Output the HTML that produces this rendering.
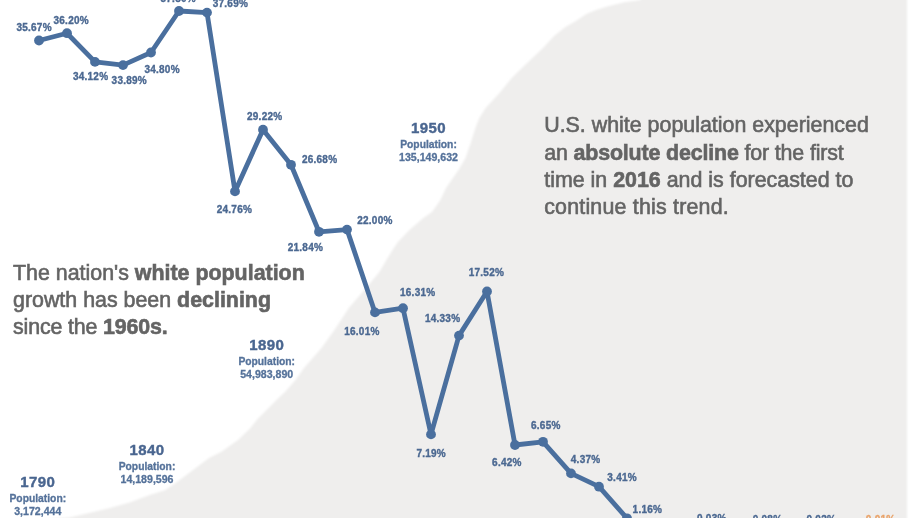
<!DOCTYPE html>
<html><head><meta charset="utf-8"><style>
html,body{margin:0;padding:0;background:#fff;width:920px;height:518px;overflow:hidden}
svg{display:block;will-change:transform}
text{font-family:"Liberation Sans",sans-serif}
.lb{font-size:10px;letter-spacing:0.25px;font-weight:bold;fill:#4b6891;stroke:#4b6891;stroke-width:0.35px}
.yr{font-size:15px;font-weight:bold;fill:#4a6690;stroke:#4a6690;stroke-width:0.4px;letter-spacing:0.4px;text-anchor:middle}
.pp{font-size:10.6px;font-weight:bold;fill:#55729a;stroke:#55729a;stroke-width:0.3px;text-anchor:middle}
.pq{font-size:10.3px}
.tx{font-size:21.4px;fill:#646464;stroke:#646464;stroke-width:0.6px}
.b{font-weight:bold}
</style></head><body>
<svg width="920" height="518" viewBox="0 0 920 518">
<defs><filter id="bl" x="-5%" y="-5%" width="110%" height="110%"><feGaussianBlur stdDeviation="0.9"/></filter></defs>
<path d="M40.0,520.0 L69.6,517.6 L89.0,513.0 L110.0,508.0 L129.6,502.4 L149.0,495.2 L165.4,490.0 L177.0,482.0 L193.0,470.0 L209.0,458.0 L221.0,452.0 L238.0,440.0 L250.0,428.5 L258.0,418.6 L267.6,409.0 L277.2,399.3 L285.0,392.0 L295.5,380.0 L304.0,368.0 L321.5,348.0 L333.0,332.0 L341.0,320.0 L348.8,308.0 L364.3,290.0 L379.4,272.0 L386.4,260.0 L393.8,248.0 L397.9,242.0 L409.4,230.0 L423.3,218.0 L432.0,212.0 L440.4,200.0 L446.0,188.0 L459.0,169.3 L465.5,158.0 L470.7,143.0 L475.4,128.0 L479.2,118.3 L485.6,108.0 L499.5,93.0 L511.7,78.0 L525.0,65.0 L543.0,48.0 L554.0,36.0 L565.4,27.1 L575.9,20.9 L586.3,13.9 L596.7,9.7 L607.2,6.6 L624.3,2.2 L640.7,0.0 L640.7,-2.0 L907.0,-2.0 L907.0,520.0 Z" fill="#efeeed" filter="url(#bl)"/>
<polyline points="39.0,40.5 67.0,33.2 95.0,61.9 123.0,65.1 151.0,52.5 179.0,11.0 207.0,12.6 235.0,191.4 263.0,129.7 291.0,164.8 319.0,231.8 347.0,229.6 375.0,312.4 403.0,308.2 431.0,434.4 459.0,335.6 487.0,291.5 515.0,445.0 543.0,441.8 571.0,473.4 599.0,486.7 627.0,518.3 655,560" fill="none" stroke="#4a6f9e" stroke-width="4.8" stroke-linejoin="round"/>
<circle cx="39.0" cy="40.5" r="4.9" fill="#4a6f9e"/>
<circle cx="67.0" cy="33.2" r="4.9" fill="#4a6f9e"/>
<circle cx="95.0" cy="61.9" r="4.9" fill="#4a6f9e"/>
<circle cx="123.0" cy="65.1" r="4.9" fill="#4a6f9e"/>
<circle cx="151.0" cy="52.5" r="4.9" fill="#4a6f9e"/>
<circle cx="179.0" cy="11.0" r="4.9" fill="#4a6f9e"/>
<circle cx="207.0" cy="12.6" r="4.9" fill="#4a6f9e"/>
<circle cx="235.0" cy="191.4" r="4.9" fill="#4a6f9e"/>
<circle cx="263.0" cy="129.7" r="4.9" fill="#4a6f9e"/>
<circle cx="291.0" cy="164.8" r="4.9" fill="#4a6f9e"/>
<circle cx="319.0" cy="231.8" r="4.9" fill="#4a6f9e"/>
<circle cx="347.0" cy="229.6" r="4.9" fill="#4a6f9e"/>
<circle cx="375.0" cy="312.4" r="4.9" fill="#4a6f9e"/>
<circle cx="403.0" cy="308.2" r="4.9" fill="#4a6f9e"/>
<circle cx="431.0" cy="434.4" r="4.9" fill="#4a6f9e"/>
<circle cx="459.0" cy="335.6" r="4.9" fill="#4a6f9e"/>
<circle cx="487.0" cy="291.5" r="4.9" fill="#4a6f9e"/>
<circle cx="515.0" cy="445.0" r="4.9" fill="#4a6f9e"/>
<circle cx="543.0" cy="441.8" r="4.9" fill="#4a6f9e"/>
<circle cx="571.0" cy="473.4" r="4.9" fill="#4a6f9e"/>
<circle cx="599.0" cy="486.7" r="4.9" fill="#4a6f9e"/>
<circle cx="627.0" cy="518.3" r="4.9" fill="#4a6f9e"/>
<text x="16.4" y="31.2" class="lb">35.67%</text>
<text x="53.5" y="23.6" class="lb">36.20%</text>
<text x="72.9" y="80.4" class="lb">34.12%</text>
<text x="111.6" y="84" class="lb">33.89%</text>
<text x="144.4" y="72.9" class="lb">34.80%</text>
<text x="160.5" y="2.3" class="lb">37.80%</text>
<text x="212.7" y="6.5" class="lb">37.69%</text>
<text x="216.7" y="212.7" class="lb">24.76%</text>
<text x="247" y="119.5" class="lb">29.22%</text>
<text x="301.9" y="162.7" class="lb">26.68%</text>
<text x="287.7" y="251" class="lb">21.84%</text>
<text x="357.2" y="223.8" class="lb">22.00%</text>
<text x="344.2" y="335.4" class="lb">16.01%</text>
<text x="400" y="295.8" class="lb">16.31%</text>
<text x="416.4" y="456.7" class="lb">7.19%</text>
<text x="424.9" y="322.3" class="lb">14.33%</text>
<text x="468.7" y="275.9" class="lb">17.52%</text>
<text x="492.1" y="465.7" class="lb">6.42%</text>
<text x="531" y="429.3" class="lb">6.65%</text>
<text x="570.8" y="462.7" class="lb">4.37%</text>
<text x="607.3" y="481.4" class="lb">3.41%</text>
<text x="632.6" y="513.1" class="lb">1.16%</text>
<text x="697" y="521.6" class="lb" fill="#4b6891" style="fill:#4b6891;stroke:#4b6891">0.03%</text>
<text x="752.7" y="523.4" class="lb" fill="#4b6891" style="fill:#4b6891;stroke:#4b6891">0.08%</text>
<text x="806.5" y="523.4" class="lb" fill="#4b6891" style="fill:#4b6891;stroke:#4b6891">0.02%</text>
<text x="865.8" y="522.8" class="lb" fill="#e9a36a" style="fill:#e9a36a;stroke:#e9a36a">0.01%</text>
<text x="428.5" y="132.6" class="yr">1950</text>
<text x="428.5" y="148" class="pp pq">Population:</text>
<text x="428.5" y="161" class="pp">135,149,632</text>
<text x="266.7" y="349.7" class="yr">1890</text>
<text x="266.7" y="364.8" class="pp pq">Population:</text>
<text x="266.7" y="377.7" class="pp">54,983,890</text>
<text x="147" y="454.7" class="yr">1840</text>
<text x="147" y="469.8" class="pp pq">Population:</text>
<text x="147" y="482.7" class="pp">14,189,596</text>
<text x="37.8" y="486.7" class="yr">1790</text>
<text x="37.8" y="501.6" class="pp pq">Population:</text>
<text x="37.8" y="514.6" class="pp">3,172,444</text>
<text x="13" y="280" class="tx" style="letter-spacing:0px">The nation's <tspan class="b">white population</tspan></text>
<text x="13" y="307" class="tx" style="letter-spacing:0px">growth has been <tspan class="b">declining</tspan></text>
<text x="13" y="333.5" class="tx" style="letter-spacing:-0.15px">since the <tspan class="b">1960s.</tspan></text>
<text x="544.2" y="132.3" class="tx" style="letter-spacing:0px">U.S. white population experienced</text>
<text x="544.2" y="159.5" class="tx" style="letter-spacing:-0.15px">an <tspan class="b">absolute decline</tspan> for the first</text>
<text x="544.2" y="186.6" class="tx" style="letter-spacing:0px">time in <tspan class="b">2016</tspan> and is forecasted to</text>
<text x="544.2" y="213.5" class="tx" style="letter-spacing:0.2px">continue this trend.</text>
</svg>
</body></html>
